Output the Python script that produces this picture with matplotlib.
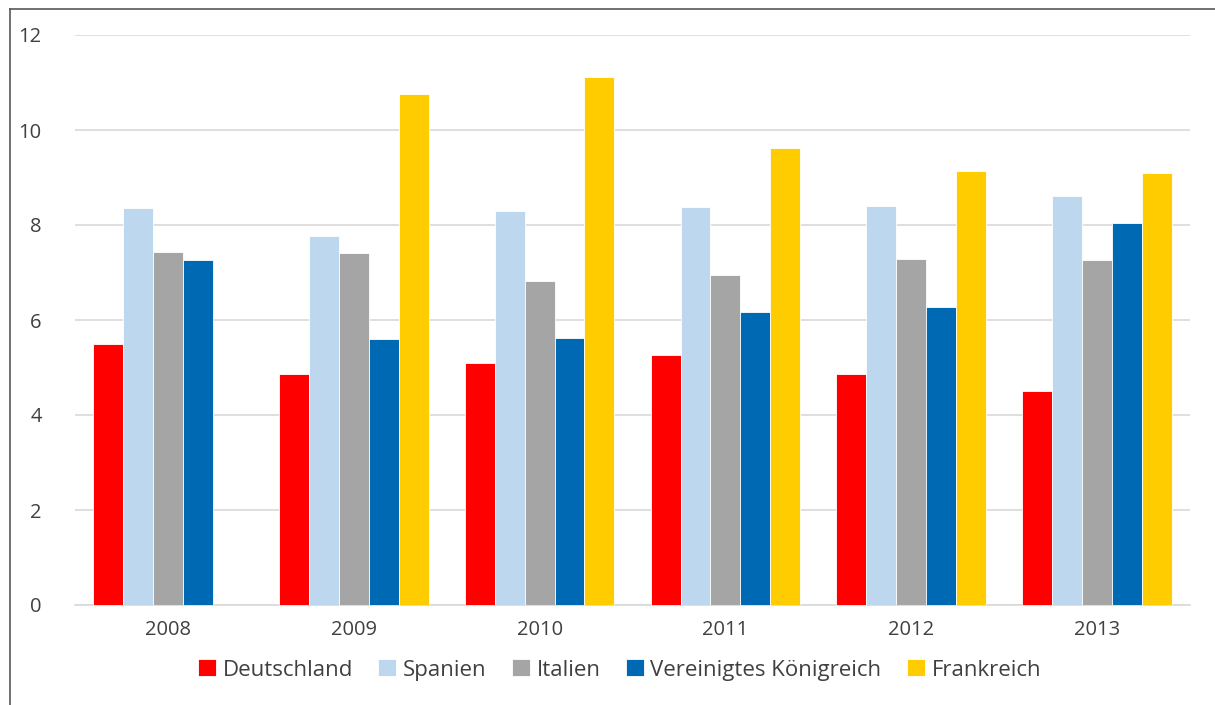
import matplotlib
matplotlib.use("Agg")
import matplotlib.pyplot as plt
import numpy as np
from matplotlib.lines import Line2D

years = ["2008", "2009", "2010", "2011", "2012", "2013"]
series_names = ["Deutschland", "Spanien", "Italien", "Vereinigtes Königreich", "Frankreich"]
deutschland = [5.50, 4.87, 5.10, 5.26, 4.87, 4.51]
spanien = [8.36, 7.76, 8.30, 8.37, 8.39, 8.62]
italien = [7.44, 7.42, 6.82, 6.94, 7.29, 7.27]
vereinigtes_koenigreich = [7.26, 5.61, 5.62, 6.17, 6.28, 8.04]
frankreich = [np.nan, 10.75, 11.11, 9.62, 9.14, 9.10]
colors = ["#FF0000", "#BDD7EE", "#A5A5A5", "#0069B4", "#FFCC00"]
y_ticks = [0, 2, 4, 6, 8, 10, 12]

plt.rcParams['font.family'] = ['Open Sans', 'DejaVu Sans']
text_color = "#404040"

fig = plt.figure(figsize=(12.15, 7.05), dpi=100)
ax = fig.add_axes([75/1215, 1-605/705, (1190-75)/1215, (605-35)/705])

data = [deutschland, spanien, italien, vereinigtes_koenigreich, frankreich]
x = np.arange(len(years))
n = len(data)
bw = 0.161
for i, (vals, c, name) in enumerate(zip(data, colors, series_names)):
    ax.bar(x + (i - (n-1)/2) * bw, vals, width=bw, color=c, label=name,
           edgecolor="white", linewidth=0.6, zorder=3)

ax.set_xlim(-0.5, len(years)-0.5)
ax.set_ylim(0, 12)
ax.set_yticks(y_ticks)
ax.set_xticks(x)
ax.set_xticklabels(years)
ax.yaxis.grid(True, color="#D9D9D9", linewidth=1.2, zorder=0)
for s in ["top", "right", "left"]:
    ax.spines[s].set_visible(False)
ax.spines["bottom"].set_color("#D9D9D9")
ax.spines["bottom"].set_linewidth(1.2)
ax.tick_params(axis="both", length=0, labelsize=14.5, colors=text_color)
ax.tick_params(axis="y", pad=24)
ax.tick_params(axis="x", pad=11)

handles, labels = ax.get_legend_handles_labels()
leg = fig.legend(handles, labels, loc="center", bbox_to_anchor=(0.51, 1-670/705),
                 ncol=5, frameon=False, fontsize=16, handlelength=0.8,
                 handleheight=0.8, handletextpad=0.3, columnspacing=1.15)
for t in leg.get_texts():
    t.set_color(text_color)

# outer border
fig.add_artist(Line2D([10/1215, 10/1215], [0, 1-9/705], transform=fig.transFigure,
                      color="#595959", linewidth=1.2))
fig.add_artist(Line2D([10/1215, 1], [1-9/705, 1-9/705], transform=fig.transFigure,
                      color="#595959", linewidth=1.2))

fig.savefig("out.png", dpi=100)
